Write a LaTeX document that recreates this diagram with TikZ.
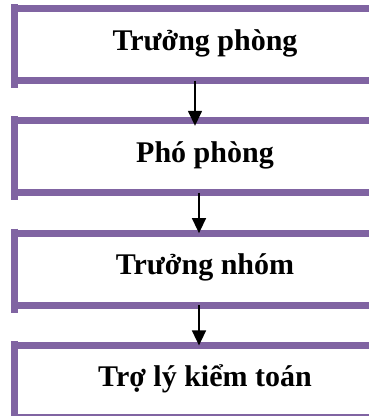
\documentclass[tikz,border=0pt]{standalone}
\usepackage{fontspec}
\setmainfont{Liberation Serif}
\usetikzlibrary{positioning,arrows.meta}
\definecolor{lila}{RGB}{128,100,162}
\begin{document}
\begin{tikzpicture}[x=1pt, y=-1pt,
        kasten/.style={minimum width=381.5pt, minimum height=72pt, inner sep=0pt, outer sep=0pt},
        titel/.style={anchor=base, font=\bfseries\fontsize{30}{35}\selectfont},
        balken/.style={lila, line width=7pt},
        seite/.style={lila, line width=6.5pt},
        pfeil/.style={-{Triangle[width=14pt,length=15pt]}, line width=1.5pt}]
        \useasboundingbox (0,0) rectangle (369,416);
        \clip (0,0) rectangle (369,416);

        % Kaesten
        \node[kasten] (b1) at (205,44.5) {};
        \node[kasten, below=40.3pt of b1] (b2) {};
        \node[kasten, below=40.3pt of b2] (b3) {};
        \node[kasten, below=40.3pt of b3] (b4) {};

        % Balken oben, unten, links
        \foreach \b in {b1,b2,b3,b4} {
            \draw[balken] (\b.north west) -- (\b.north east);
            \draw[balken] (\b.south west) -- (\b.south east);
            \draw[seite] ([yshift=4.5pt]\b.north west) -- ([yshift=-7.5pt]\b.south west);
        }

        % Texte
        \node[titel] (t1) at ([yshift=-5.5pt]b1.center) {Trưởng phòng};
        \node[titel] (t2) at ([yshift=-5.5pt]b2.center) {Phó phòng};
        \node[titel] (t3) at ([yshift=-5.5pt]b3.center) {Trưởng nhóm};
        \node[titel] (t4) at ([yshift=-5.5pt]b4.center) {Trợ lý kiểm toán};

        % Pfeile
        \draw[pfeil] ([xshift=-10pt]b1.south) -- ([xshift=-10pt,yshift=-5pt]b2.north);
        \draw[pfeil] ([xshift=-6pt]b2.south) -- ([xshift=-6pt]b3.north);
        \draw[pfeil] ([xshift=-6pt]b3.south) -- ([xshift=-6pt]b4.north);

    \end{tikzpicture}
\end{document}
